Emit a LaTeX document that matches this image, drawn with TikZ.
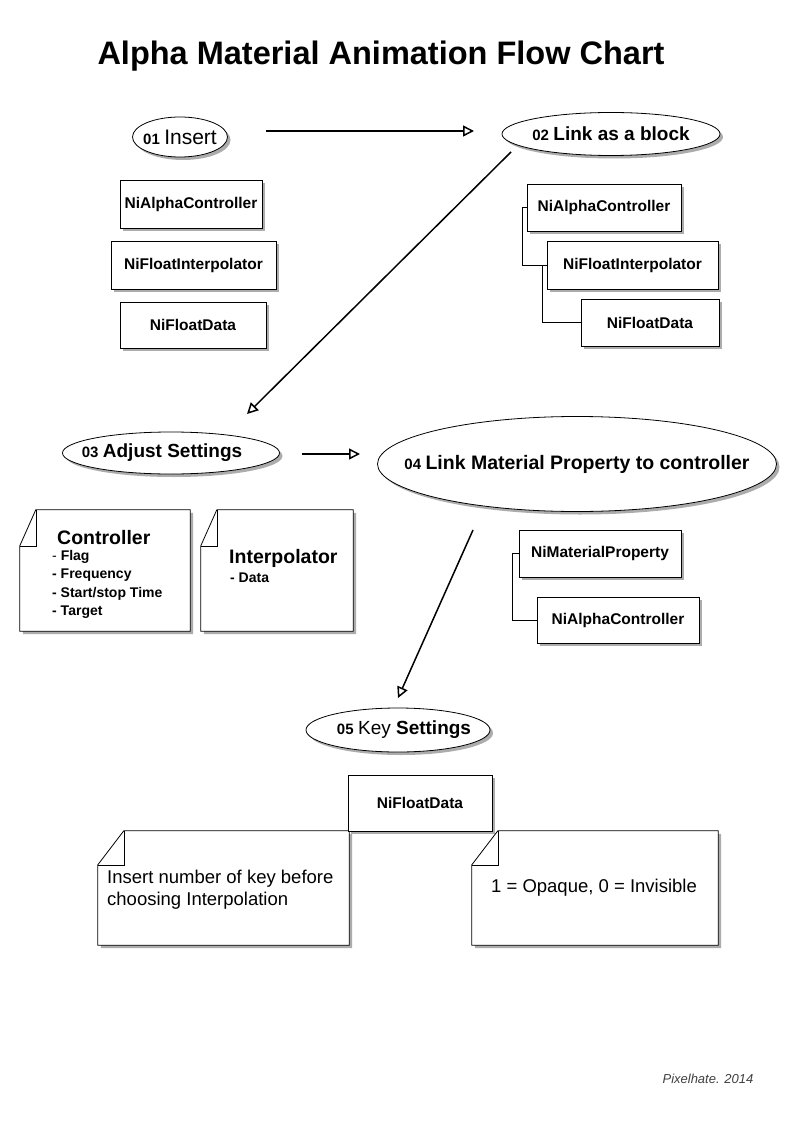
\documentclass[tikz,border=0pt]{standalone}
\usepackage{fontspec}
\setmainfont{Liberation Sans}
\usetikzlibrary{shapes.geometric,arrows.meta,shadows,calc}

\tikzset{
  shade/.style={drop shadow={shadow xshift=3pt, shadow yshift=-3pt, fill=gray!65, opacity=1}},
  ell/.style={ellipse, draw, fill=white, line width=0.8pt, inner sep=0pt, shade},
  nibox/.style={rectangle, draw, fill=white, line width=0.8pt, inner sep=0pt, shade,
    font=\fontsize{15.5}{18}\selectfont\bfseries},
  txt/.style={inner sep=0pt},
  arr/.style={-{Triangle[open,length=11pt,width=11pt]}, line width=1.5pt},
}

% note with the corner folded at top left
\newcommand{\foldnote}[3]{%
  \draw[fill=white, line width=0.8pt, shade] ($(#1.north west)+(#2,0)$) -- (#1.north east)
    -- (#1.south east) -- (#1.south west) -- ($(#1.north west)+(0,#3)$) -- cycle;
  \draw[line width=0.6pt] ($(#1.north west)+(#2,0)$) |- ($(#1.north west)+(0,#3)$);
}

\begin{document}
\begin{tikzpicture}[x=1pt,y=-1pt]
\useasboundingbox[fill=white] (0,0) rectangle (794,1123);

\node[txt, font=\fontsize{32.5}{36}\selectfont\bfseries] (title) at (381,56) {Alpha Material Animation Flow Chart};

%% step 01
\node[ell, minimum width=95pt, minimum height=40pt] (e1) at (180,137) {};
\node[txt] (t1) at (e1) {{\fontsize{15}{18}\selectfont\bfseries 01}\, {\fontsize{21}{24}\selectfont Insert}};
\node[nibox, minimum width=142pt, minimum height=48pt] (l1) at (191,204) {NiAlphaController};
\node[nibox, minimum width=165pt, minimum height=48pt] (l2) at (193.5,265) {NiFloatInterpolator};
\node[nibox, minimum width=146pt, minimum height=46pt] (l3) at (193,325) {NiFloatData};

%% step 02
\node[ell, minimum width=218pt, minimum height=43pt] (e2) at (611,134) {};
\node[txt, font=\bfseries] (t2) at (e2) {{\fontsize{15}{18}\selectfont 02}\, {\fontsize{19}{22}\selectfont Link as a block}};
\node[nibox, minimum width=154pt, minimum height=47pt] (r1) at (604,207.5) {NiAlphaController};
\node[nibox, minimum width=171pt, minimum height=48pt] (r2) at (632.5,265) {NiFloatInterpolator};
\node[nibox, minimum width=138pt, minimum height=47pt] (r3) at (650,322.5) {NiFloatData};
\draw[line width=0.7pt] (r1.west) -- ++(-4,0) |- (r2.west);
\draw[line width=0.7pt] ([xshift=-4pt]r2.west) |- (r3.west);

\draw[arr] ($(e1)+(86,-6)$) -- ($(e2)+(-137,-3)$);

%% step 03
\node[ell, minimum width=217pt, minimum height=42pt] (e3) at (171,453) {};
\node[txt, font=\bfseries] (t3) at ($(e3)+(-9,0)$) {{\fontsize{15}{18}\selectfont 03}\, {\fontsize{19}{22}\selectfont Adjust Settings}};
\draw[arr] ($(e2)+(-100,18)$) -- ($(e3)+(76,-39)$);

\node[minimum width=170pt, minimum height=121pt] (n1) at (105,570.5) {};
\foldnote{n1}{16}{36}
\node[txt, anchor=west, font=\fontsize{19.5}{22}\selectfont\bfseries] (ctrlT) at (57,538) {Controller};
\node[txt, anchor=north west, align=left, font=\fontsize{14}{18.5}\selectfont\bfseries] (ctrlL) at (52,550)
  {{\mdseries -} Flag\\- Frequency\\- Start/stop Time\\- Target};

\node[minimum width=152pt, minimum height=121pt] (n2) at (277,570.5) {};
\foldnote{n2}{16}{36}
\node[txt, anchor=west, font=\fontsize{19.5}{22}\selectfont\bfseries] (intT) at (229,558) {Interpolator};
\node[txt, anchor=west, font=\fontsize{14}{18}\selectfont\bfseries] (intL) at (230,578) {- Data};

%% step 04
\node[ell, minimum width=399pt, minimum height=95pt] (e4) at (577,464) {};
\node[txt, font=\bfseries] (t4) at (e4) {{\fontsize{15}{18}\selectfont 04}\, {\fontsize{19.5}{22}\selectfont Link Material Property to controller}};
\node[nibox, minimum width=162pt, minimum height=47pt] (m1) at (600,553.5) {NiMaterialProperty};
\node[nibox, minimum width=162pt, minimum height=46pt] (m2) at (618,620) {NiAlphaController};
\draw[line width=0.7pt] (m1.west) -- ++(-6,0) |- (m2.west);

\draw[arr] ($(e3)+(131,1)$) -- ($(e4)+(-217,-10)$);

%% step 05
\node[ell, minimum width=184pt, minimum height=44pt] (e5) at (398,730) {};
\node[txt] (t5) at ($(e5)+(6,0)$) {{\fontsize{15}{18}\selectfont\bfseries 05}\, {\fontsize{19}{22}\selectfont Key \textbf{Settings}}};
\draw[arr] ($(e4)+(-104,66)$) -- ($(e5)+(0,-32)$);

\node[minimum width=251pt, minimum height=114pt] (n3) at (223.5,888) {};
\foldnote{n3}{26}{34}
\node[txt, anchor=north west, align=left, font=\fontsize{18.5}{22}\selectfont] (keyL) at (107,870)
  {Insert number of key before\\choosing Interpolation};

\node[minimum width=246pt, minimum height=114pt] (n4) at (595,888) {};
\foldnote{n4}{26}{34}
\node[txt, font=\fontsize{18.5}{22}\selectfont] (keyR) at (594,888) {1 = Opaque, 0 = Invisible};

\node[nibox, minimum width=144pt, minimum height=56pt] (k1) at (420,803) {NiFloatData};

\node[txt, font=\fontsize{13}{15}\selectfont\itshape, text=black!75] (credit) at (708,1079) {Pixelhate. 2014};
\end{tikzpicture}
\end{document}
